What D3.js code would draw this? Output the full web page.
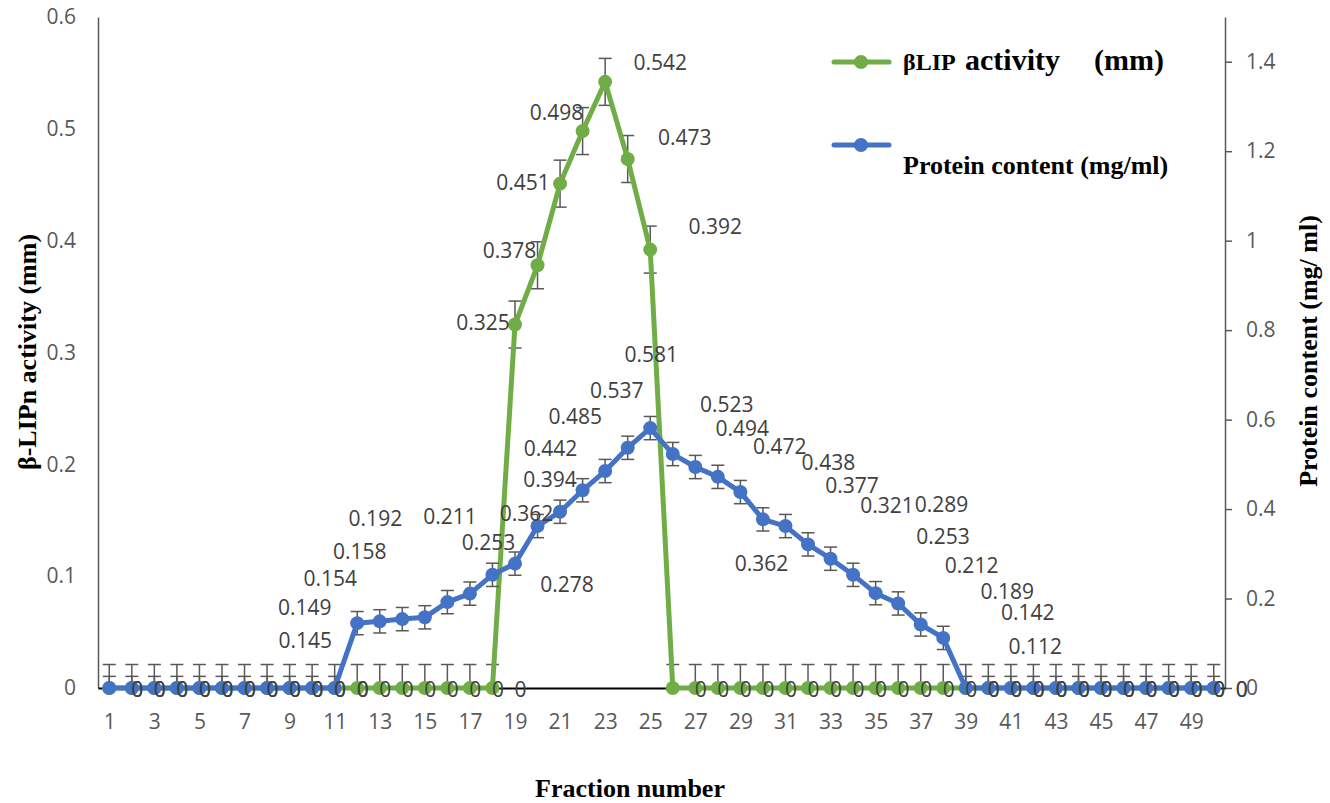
<!DOCTYPE html>
<html>
<head>
<meta charset="utf-8">
<script src="https://cdn.jsdelivr.net/npm/d3@7/dist/d3.min.js"></script>
<style>
  html, body { margin: 0; padding: 0; background: #ffffff; }
  svg { display: block; }
</style>
</head>
<body>
<svg id="chart" width="1330" height="803"></svg>
<script>
// ---------------- DATA ----------------
const fractions = d3.range(1, 51);
const xTickLabels = d3.range(1, 51, 2);
const leftTicks = [0, 0.1, 0.2, 0.3, 0.4, 0.5, 0.6];
const rightTicks = [0, 0.2, 0.4, 0.6, 0.8, 1, 1.2, 1.4];

// β-LIP activity (mm) — left axis
const activity = [
  0, 0, 0, 0, 0, 0, 0, 0, 0, 0,
  0, 0, 0, 0, 0, 0, 0, 0, 0.325, 0.378,
  0.451, 0.498, 0.542, 0.473, 0.392, 0, 0, 0, 0, 0,
  0, 0, 0, 0, 0, 0, 0, 0, 0, 0,
  0, 0, 0, 0, 0, 0, 0, 0, 0, 0
];
// Protein content (mg/ml) — right axis
const protein = [
  0, 0, 0, 0, 0, 0, 0, 0, 0, 0,
  0, 0.145, 0.149, 0.154, 0.158, 0.192, 0.211, 0.253, 0.278, 0.362,
  0.394, 0.442, 0.485, 0.537, 0.581, 0.523, 0.494, 0.472, 0.438, 0.377,
  0.362, 0.321, 0.289, 0.253, 0.212, 0.189, 0.142, 0.112, 0, 0,
  0, 0, 0, 0, 0, 0, 0, 0, 0, 0
];
const activityErr = 0.021;
const proteinErr = 0.026;

const legendLabels = ["βLIP", "activity", "(mm)", "Protein content (mg/ml)"];
const leftTitle = "β-LIPn activity (mm)";
const rightTitle = "Protein content (mg/ ml)";
const xTitle = "Fraction number";

// -------- label layout nudges (pixels from the point), fraction -> [dx, dy] --------
const activityLabelNudge = {
  19: [-32, -2], 20: [-28, -15], 21: [-37, -1], 22: [-26, -19],
  23: [55, -19], 24: [57, -22], 25: [65, -23]
};
const proteinLabelNudge = {
  12: [-52, 17], 13: [-75, -14], 14: [-72, -41], 15: [-65, -66], 16: [-72, -84],
  17: [-20, -77], 18: [-4, -32], 19: [52, 21], 20: [-11, -13], 21: [-10, -32],
  22: [-32, -42], 23: [-30, -55], 24: [-11, -57], 25: [1, -74], 26: [54, -50],
  27: [47, -39], 28: [62, -30], 29: [88, -30], 30: [89, -34], 31: [-24, 37],
  32: [79, -39], 33: [111, -54], 34: [90, -38], 35: [96, -28], 36: [109, -12],
  37: [107, -12], 38: [92, 9]
};
const zeroLabelNudge = [28, 1];

// ---------------- STYLE / LAYOUT ----------------
const GREEN = "#70AD47", BLUE = "#4472C4", GRAY = "#595959", LABEL = "#404040";
const SANS = "'Open Sans', 'Liberation Sans', sans-serif";
const SERIF = "'Liberation Serif', 'Times New Roman', serif";
const plot = { left: 98, right: 1225, top: 17, bottom: 688 };

const svg = d3.select("#chart");
svg.append("rect").attr("width", 1330).attr("height", 803).attr("fill", "#fff");

const x = d3.scalePoint().domain(fractions).range([plot.left, plot.right]).padding(0.5);
const yL = d3.scaleLinear().domain([0, 0.6]).range([plot.bottom, plot.top]);
const yR = d3.scaleLinear().domain([0, 1.5]).range([plot.bottom, plot.top]);
const fmt = d => String(+(+d).toFixed(1));

// Left axis
const gL = svg.append("g").attr("transform", `translate(${plot.left},0)`)
  .call(d3.axisLeft(yL).tickValues(leftTicks).tickSize(0).tickPadding(22).tickFormat(fmt));
gL.select(".domain").attr("stroke", GRAY).attr("stroke-width", 1.5);
gL.selectAll("text").attr("font-family", SANS).attr("font-size", 21).attr("fill", GRAY);

// Right axis
const gR = svg.append("g").attr("transform", `translate(${plot.right},0)`)
  .call(d3.axisRight(yR).tickValues(rightTicks).tickSize(7).tickSizeOuter(0).tickPadding(14).tickFormat(fmt));
gR.select(".domain").attr("stroke", GRAY).attr("stroke-width", 1.5);
gR.selectAll(".tick line").attr("stroke", GRAY).attr("stroke-width", 1.5);
gR.selectAll("text").attr("font-family", SANS).attr("font-size", 21).attr("fill", GRAY);

// Bottom axis
const gX = svg.append("g").attr("transform", `translate(0,${plot.bottom})`)
  .call(d3.axisBottom(x).tickValues(xTickLabels).tickSize(0).tickPadding(26).tickSizeOuter(0));
gX.select(".domain").attr("stroke", "#000").attr("stroke-width", 2);
gX.selectAll("text").attr("font-family", SANS).attr("font-size", 21).attr("fill", GRAY);

// Series drawing
function drawSeries(values, yScale, err, color) {
  const pts = fractions.map((f, i) => ({ f, v: values[i] }));
  const g = svg.append("g");
  // error bars
  const eb = g.append("g").attr("stroke", GRAY).attr("stroke-width", 1.5);
  pts.forEach(p => {
    const cx = x(p.f);
    const top = yScale(p.v + err);
    const lowV = p.v - err;
    const bot = lowV < 0 ? plot.bottom : yScale(lowV);
    eb.append("line").attr("x1", cx).attr("x2", cx).attr("y1", top).attr("y2", bot);
    eb.append("line").attr("x1", cx - 6.5).attr("x2", cx + 6.5).attr("y1", top).attr("y2", top);
    if (lowV >= 0) eb.append("line").attr("x1", cx - 6.5).attr("x2", cx + 6.5).attr("y1", bot).attr("y2", bot);
  });
  g.append("path").datum(pts)
    .attr("fill", "none").attr("stroke", color).attr("stroke-width", 5)
    .attr("stroke-linejoin", "round").attr("stroke-linecap", "round")
    .attr("d", d3.line().x(d => x(d.f)).y(d => yScale(d.v)));
  g.selectAll("circle").data(pts).join("circle")
    .attr("cx", d => x(d.f)).attr("cy", d => yScale(d.v)).attr("r", 7).attr("fill", color);
  return pts;
}
const actPts = drawSeries(activity, yL, activityErr, GREEN);
const proPts = drawSeries(protein, yR, proteinErr, BLUE);

// Data labels
const lbl = svg.append("g").attr("font-family", SANS).attr("font-size", 21).attr("fill", LABEL)
  .attr("text-anchor", "middle");
function labels(pts, yScale, nudge) {
  pts.forEach(p => {
    const n = p.v === 0 ? zeroLabelNudge : (nudge[p.f] || [0, -20]);
    lbl.append("text").attr("x", x(p.f) + n[0]).attr("y", yScale(p.v) + n[1])
      .attr("dy", "0.36em").text(String(p.v));
  });
}
labels(actPts, yL, activityLabelNudge);
labels(proPts, yR, proteinLabelNudge);

// Axis titles
svg.append("text").attr("transform", "translate(36,352) rotate(-90)")
  .attr("text-anchor", "middle").attr("font-family", SERIF).attr("font-weight", "bold")
  .attr("font-size", 26).attr("fill", "#000").text(leftTitle);
svg.append("text").attr("transform", "translate(1317,351) rotate(-90)")
  .attr("text-anchor", "middle").attr("font-family", SERIF).attr("font-weight", "bold")
  .attr("font-size", 26).attr("fill", "#000").text(rightTitle);
svg.append("text").attr("x", 630).attr("y", 797)
  .attr("text-anchor", "middle").attr("font-family", SERIF).attr("font-weight", "bold")
  .attr("font-size", 26).attr("fill", "#000").text(xTitle);

// Legend
const leg = svg.append("g");
[[GREEN, 62], [BLUE, 145]].forEach(([c, yy]) => {
  leg.append("line").attr("x1", 834).attr("x2", 889).attr("y1", yy).attr("y2", yy)
    .attr("stroke", c).attr("stroke-width", 5).attr("stroke-linecap", "round");
  leg.append("circle").attr("cx", 861).attr("cy", yy).attr("r", 7).attr("fill", c);
});
const t1 = leg.append("text").attr("y", 70).attr("font-family", SERIF).attr("font-weight", "bold").attr("fill", "#000");
t1.append("tspan").attr("x", 903).attr("font-size", 24).text(legendLabels[0]);
t1.append("tspan").attr("x", 965).attr("font-size", 30).text(legendLabels[1]);
t1.append("tspan").attr("x", 1094).attr("font-size", 30).text(legendLabels[2]);
leg.append("text").attr("x", 903).attr("y", 174).attr("font-family", SERIF).attr("font-weight", "bold")
  .attr("font-size", 26).attr("fill", "#000").text(legendLabels[3]);
</script>
</body>
</html>
